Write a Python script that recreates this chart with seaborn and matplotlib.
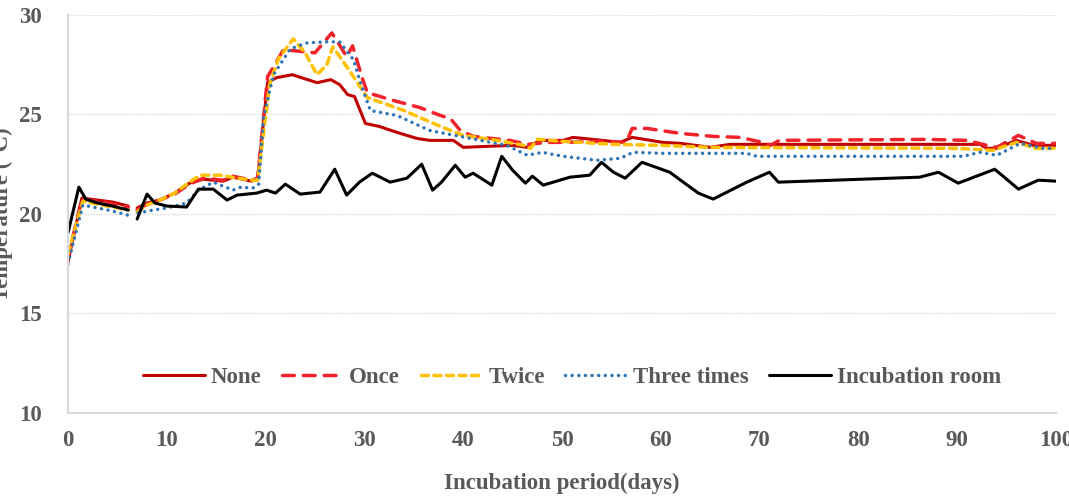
import numpy as np
import pandas as pd
import matplotlib
matplotlib.use('Agg')
import matplotlib.pyplot as plt
import matplotlib.lines as mlines
import seaborn as sns

# day, temperature pairs; nan marks the gap in logging (day 6-7)
none_day = [0, 1.4, 3, 4.5, 6.1, np.nan, 7.0, 8, 9.3, 10.8, 12.3, 13.7, 15.7, 16.7, 18.6, 19.2, 20.2, 21.1, 22.7,
            25.2, 26.6, 27.5, 28.3, 29.0, 30.1, 31.5, 33.3, 35.3, 36.6, 39.0, 40.0, 45.0, 46.5, 47.8, 50.1, 51.1,
            54.1, 55.9, 57.1, 60.2, 62, 65, 67, 92.3, 93, 94, 96, 97.7, 100]
none_temp = [17.6, 20.8, 20.7, 20.6, 20.4, np.nan, 20.3, 20.55, 20.7, 21.05, 21.55, 21.75, 21.65, 21.85, 21.65, 21.8,
             26.6, 26.85, 27.0, 26.6, 26.75, 26.5, 26.0, 25.9, 24.55, 24.4, 24.1, 23.8, 23.7, 23.7, 23.35, 23.45,
             23.35, 23.7, 23.7, 23.85, 23.7, 23.6, 23.85, 23.6, 23.55, 23.35, 23.5, 23.5, 23.3, 23.3, 23.7, 23.45,
             23.45]

once_day = [0, 1.4, 3, 4.5, 6.1, np.nan, 7.0, 8, 9.3, 10.8, 12.3, 13.7, 15.7, 16.7, 18.6, 19.2, 20.2, 20.8, 21.8, 23,
            25, 26.7, 27.6, 28.2, 28.8, 29.8, 30.3, 32.6, 35.6, 37.7, 38.7, 39.7, 41.0, 44.7, 46.5, 48.5, 50.1, 54,
            56.5, 57.1, 58.6, 62, 65.3, 68, 70.3, 71.1, 72, 87, 91, 93, 94, 96.2, 98, 100]
once_temp = [17.8, 20.75, 20.65, 20.5, 20.35, np.nan, 20.2, 20.5, 20.7, 21.0, 21.5, 21.8, 21.7, 21.9, 21.7, 21.8,
             26.9, 27.4, 28.25, 28.2, 28.1, 29.1, 28.4, 27.9, 28.45, 26.8, 26.1, 25.75, 25.35, 24.95, 24.8, 24.2,
             23.9, 23.7, 23.5, 23.6, 23.6, 23.65, 23.6, 24.3, 24.3, 24.05, 23.9, 23.85, 23.6, 23.45, 23.7, 23.75,
             23.7, 23.45, 23.35, 23.95, 23.55, 23.55]

twice_day = [0, 1.5, 3, 4.5, 6.1, np.nan, 7.0, 8, 9.3, 10.8, 12.3, 13.4, 15.4, 16.5, 18.6, 19.2, 20.4, 21.3, 22.8,
             24.0, 25.2, 26.2, 26.8, 27.8, 28.9, 30.3, 34, 37.7, 40, 43.4, 46.1, 46.8, 47.5, 50.1, 55.2, 60, 65,
             90, 93.6, 96, 98, 100]
twice_temp = [18.0, 20.65, 20.5, 20.35, 20.2, np.nan, 20.1, 20.45, 20.7, 21.05, 21.6, 21.95, 21.95, 21.85, 21.7,
              21.7, 26.5, 27.8, 28.8, 28.1, 27.0, 27.5, 28.4, 27.7, 26.9, 25.85, 25.2, 24.4, 23.95, 23.7, 23.45,
              23.3, 23.75, 23.65, 23.5, 23.45, 23.35, 23.3, 23.2, 23.6, 23.3, 23.3]

three_day = [0, 1.5, 3, 4.5, 6.0, np.nan, 7.1, 8.6, 10, 12.0, 13.2, 14.7, 16.7, 17.5, 18.7, 19.3, 19.8, 20.8, 22.5,
             24.2, 26.2, 27.5, 28.9, 29.6, 30.6, 33.3, 36.6, 40.7, 44.4, 46.5, 48, 50.1, 53.5, 55.9, 57.2, 60,
             68.7, 69.7, 90.6, 92.3, 94, 96.4, 98.7, 100]
three_temp = [17.5, 20.45, 20.3, 20.15, 19.95, np.nan, 20.05, 20.2, 20.3, 20.55, 21.2, 21.6, 21.2, 21.35, 21.3,
              21.5, 24.9, 27.0, 28.3, 28.6, 28.65, 28.65, 27.75, 26.6, 25.2, 24.95, 24.2, 23.8, 23.45, 22.95,
              23.1, 22.9, 22.7, 22.8, 23.1, 23.05, 23.05, 22.9, 22.9, 23.1, 22.95, 23.55, 23.3, 23.3]

room_day = [0, 1.1, 1.8, 3, 4.5, 6.1, np.nan, 7.0, 8.0, 8.8, 10, 12.0, 13.2, 14.7, 16.1, 17.1, 19.1, 20.1, 21.0,
            22.0, 23.5, 25.5, 27.0, 28.2, 29.5, 30.8, 32.6, 34.3, 35.8, 36.9, 37.8, 39.2, 40.2, 41.0, 42.9, 43.9,
            45, 46.3, 47.0, 48.1, 50.8, 52.8, 54.0, 55.2, 56.4, 58.1, 60.9, 63.8, 65.3, 68.7, 71.0, 71.9, 86.2,
            88.1, 90.1, 93.8, 96.2, 98.2, 100]
room_temp = [19.05, 21.35, 20.75, 20.55, 20.4, 20.2, np.nan, 19.75, 21.0, 20.55, 20.4, 20.35, 21.25, 21.25, 20.7,
             20.95, 21.05, 21.2, 21.05, 21.5, 21.0, 21.1, 22.25, 20.95, 21.6, 22.05, 21.6, 21.8, 22.5, 21.2, 21.6,
             22.45, 21.85, 22.05, 21.45, 22.9, 22.2, 21.55, 21.9, 21.45, 21.85, 21.95, 22.6, 22.1, 21.8, 22.6,
             22.1, 21.05, 20.75, 21.6, 22.1, 21.6, 21.85, 22.1, 21.55, 22.25, 21.25, 21.7, 21.65]

series = ["None", "Once", "Twice", "Three times", "Incubation room"]
days = [none_day, once_day, twice_day, three_day, room_day]
temps = [none_temp, once_temp, twice_temp, three_temp, room_temp]

colors = {"None": "#C00000", "Once": "#F2222B", "Twice": "#FFC000",
          "Three times": "#2E75B6", "Incubation room": "#000000"}
dashes = {"None": "", "Once": (3.4, 2.6), "Twice": (2.0, 1.6),
          "Three times": (0.01, 1.9), "Incubation room": ""}
widths = {"None": 2.2, "Once": 2.5, "Twice": 2.5, "Three times": 2.5, "Incubation room": 2.2}

grey = "#595959"
fsize = 16.5


def build_frame():
    rows = []
    for name, d, t in zip(series, days, temps):
        seg = 0
        for x, y in zip(d, t):
            if np.isnan(x):
                seg += 1
                continue
            rows.append({"series": name, "seg": seg, "day": x, "temp": y})
    return pd.DataFrame(rows)


def main():
    sns.set_style('white')
    plt.rcParams['font.family'] = ['Liberation Serif', 'DejaVu Serif']
    plt.rcParams['font.weight'] = 'bold'

    df = build_frame()

    fig = plt.figure(figsize=(10.69, 4.96), dpi=100)
    ax = fig.add_axes([68 / 1069, 83 / 496, 988 / 1069, 398 / 496])

    for name in series:
        sub = df[df["series"] == name]
        sns.lineplot(data=sub, x="day", y="temp", units="seg", estimator=None, sort=False,
                     color=colors[name], linewidth=widths[name], ax=ax, legend=False)
        for ln in ax.lines[-sub["seg"].nunique():]:
            if dashes[name]:
                ln.set_dashes(dashes[name])
                ln.set_dash_capstyle('round')

    ax.set_xlim(0, 100)
    ax.set_ylim(10, 30)
    ax.set_xticks(np.arange(0, 101, 10))
    ax.set_yticks(np.arange(10, 31, 5))
    ax.grid(axis="y", color="#D9D9D9", linestyle=(0, (1, 1)), linewidth=1)
    ax.tick_params(length=0, labelsize=fsize, labelcolor=grey)
    ax.tick_params(axis="x", pad=12)
    ax.tick_params(axis="y", pad=19)
    for lab in ax.get_xticklabels() + ax.get_yticklabels():
        lab.set_fontweight('bold')

    sns.despine(ax=ax)
    for s in ["left", "bottom"]:
        ax.spines[s].set_color("#D9D9D9")
        ax.spines[s].set_linewidth(1.5)

    ax.set_xlabel("Incubation period(days)", fontsize=fsize, fontweight='bold', color=grey, labelpad=16)
    ax.set_ylabel("Temperature (°C)", fontsize=fsize, fontweight='bold', color=grey)
    ax.yaxis.set_label_coords(-0.0556, 0.5)

    handles = []
    for name in series:
        h = mlines.Line2D([], [], color=colors[name], linewidth=widths[name], label=name)
        if dashes[name]:
            h.set_dashes(dashes[name])
            h.set_dash_capstyle('round')
        handles.append(h)
    leg = ax.legend(handles=handles, loc="center", bbox_to_anchor=(0.51, 0.088), ncol=5, frameon=False,
                    handlelength=2.7, handletextpad=0.25, columnspacing=0.9,
                    prop={'size': fsize, 'weight': 'bold'})
    for txt in leg.get_texts():
        txt.set_color(grey)

    fig.savefig("out.png", dpi=100)
    plt.close(fig)


if __name__ == '__main__':
    main()
